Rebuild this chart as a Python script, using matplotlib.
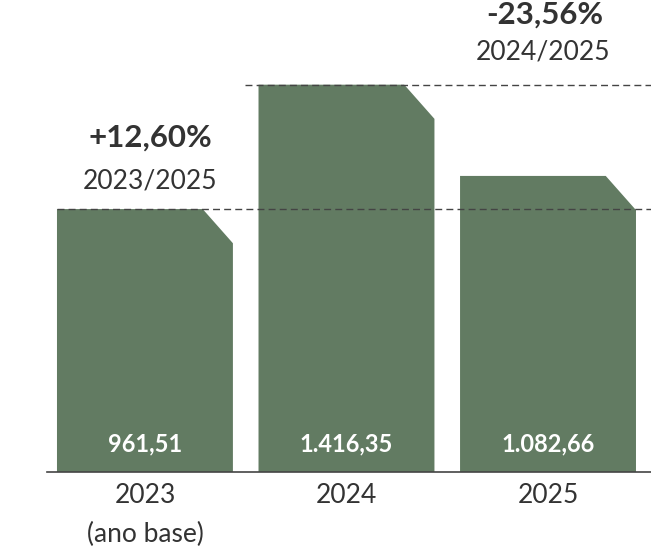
import matplotlib
matplotlib.use("Agg")
import matplotlib.pyplot as plt
from matplotlib.patches import Polygon

plt.rcParams['font.family'] = ['Lato', 'DejaVu Sans']

years = ['2023\n(ano base)', '2024', '2025']
values = [961.51, 1416.35, 1082.66]
value_labels = ['961,51', '1.416,35', '1.082,66']
change_pct = ['+12,60%', '-23,56%']
change_period = ['2023/2025', '2024/2025']

green = '#627b62'
dark = '#333333'

fig = plt.figure(figsize=(6.51, 5.46), dpi=100)
ax = fig.add_axes([47 / 651, 74 / 546, 1 - 47 / 651, 472 / 546])

width = 0.873
cut_x = 0.15   # chamfer on the top-right corner
cut_y = 125

for i, v in enumerate(values):
    l, r = i - width / 2, i + width / 2
    pts = [(l, 0), (l, v), (r - cut_x, v), (r, v - cut_y), (r, 0)]
    ax.add_patch(Polygon(pts, closed=True, facecolor=green, edgecolor='none', zorder=2))
    ax.text(i, 102, value_labels[i], ha='center', va='center', color='white',
            fontsize=17, fontweight='bold', zorder=4)

# reference lines at the 2023 and 2024 levels
ax.plot([-width / 2, 2.6], [values[0], values[0]], ls=(0, (5, 3)), color='#444444', lw=1, zorder=3)
ax.plot([1 - width / 2 - 0.065, 2.6], [values[1], values[1]], ls=(0, (5, 3)), color='#444444', lw=1, zorder=3)

# variation labels
ax.text(0.025, values[0] + 263, change_pct[0], ha='center', va='center', fontsize=22.5,
        fontweight='bold', color=dark)
ax.text(0.025, values[0] + 104, change_period[0], ha='center', va='center', fontsize=19,
        color=dark)
ax.text(1.985, values[1] + 255, change_pct[1], ha='center', va='center', fontsize=22.5,
        fontweight='bold', color=dark, clip_on=False)
ax.text(1.975, values[1] + 120, change_period[1], ha='center', va='center', fontsize=19,
        color=dark)

ax.set_xlim(-0.486, 2.511)
ax.set_ylim(0, 1726)
ax.set_xticks(range(len(years)))
ax.set_xticklabels(years, fontsize=19, color=dark, linespacing=1.7)
ax.tick_params(axis='x', length=0, pad=8)
ax.set_yticks([])
for s in ['top', 'right', 'left']:
    ax.spines[s].set_visible(False)
ax.spines['bottom'].set_color('#444444')
ax.spines['bottom'].set_linewidth(1.2)
ax.patch.set_alpha(0)

fig.savefig('out.png', dpi=100)
